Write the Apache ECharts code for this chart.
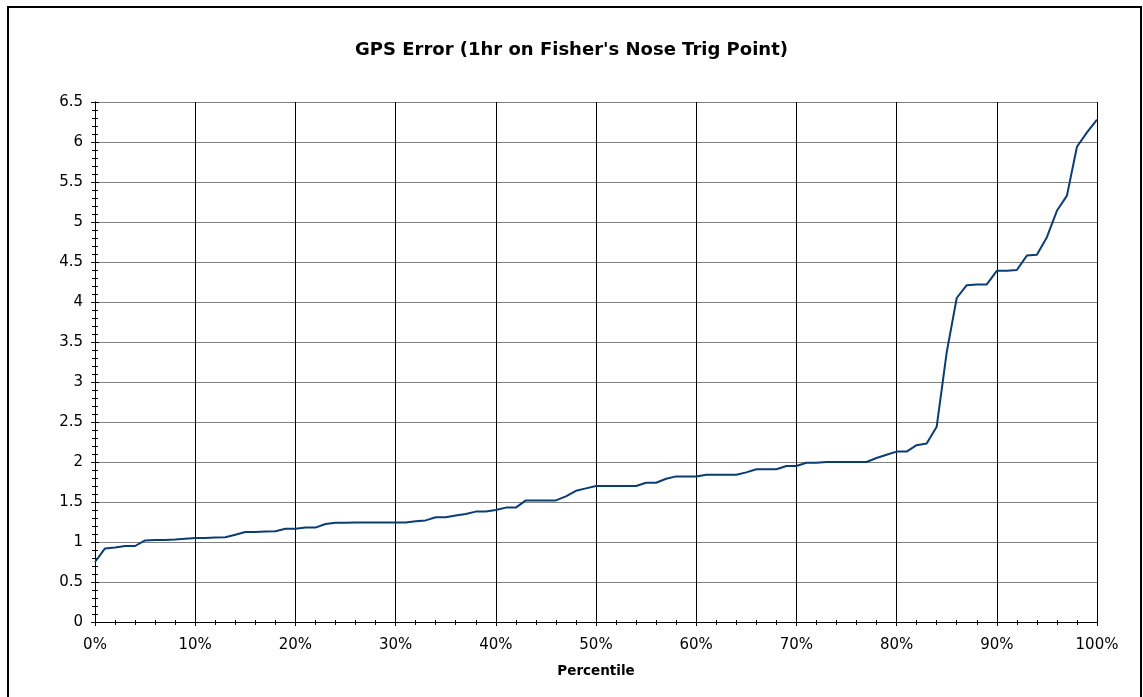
<!DOCTYPE html>
<html>
<head>
<meta charset="utf-8">
<title>GPS Error</title>
<script src="https://cdn.jsdelivr.net/npm/echarts@6/dist/echarts.min.js"></script>
<style>
  html, body { margin: 0; padding: 0; background: #fff; }
  #chart { width: 1143px; height: 697px; }
</style>
</head>
<body>
<div id="chart"></div>
<script>
// percentile (0..100) and GPS error values
const percentiles = Array.from({ length: 101 }, (_, i) => i)
const errors = [
  0.75, 0.92, 0.93, 0.95, 0.95, 1.02, 1.025, 1.025, 1.03, 1.04,
  1.05, 1.05, 1.055, 1.06, 1.09, 1.125, 1.125, 1.13, 1.135, 1.165,
  1.165, 1.18, 1.18, 1.225, 1.24, 1.24, 1.245, 1.245, 1.245, 1.245,
  1.245, 1.245, 1.26, 1.27, 1.31, 1.31, 1.33, 1.35, 1.38, 1.38,
  1.40, 1.43, 1.43, 1.52, 1.52, 1.52, 1.52, 1.57, 1.64, 1.67,
  1.70, 1.70, 1.70, 1.70, 1.70, 1.74, 1.74, 1.79, 1.82, 1.82,
  1.82, 1.84, 1.84, 1.84, 1.84, 1.87, 1.91, 1.91, 1.91, 1.95,
  1.95, 1.99, 1.99, 2.0, 2.0, 2.0, 2.0, 2.0, 2.05, 2.09,
  2.13, 2.13, 2.21, 2.23, 2.44, 3.37, 4.05, 4.21, 4.22, 4.22,
  4.39, 4.39, 4.40, 4.58, 4.59, 4.81, 5.14, 5.33, 5.94, 6.12,
  6.28
]

const chart = echarts.init(document.getElementById('chart'))
const font = 'DejaVu Sans'

const baseX = {
  type: 'value',
  min: 0,
  max: 100,
  interval: 10,
  axisLine: { lineStyle: { color: '#000', width: 1 } },
  minorTick: { show: true, splitNumber: 5, length: 3, lineStyle: { color: '#000' } },
  axisTick: { length: 4, lineStyle: { color: '#000' } }
}
const baseY = {
  type: 'value',
  min: 0,
  max: 6.5,
  interval: 0.5,
  axisLine: { show: true, lineStyle: { color: '#000', width: 1 } },
  minorTick: { show: true, splitNumber: 5, length: 3, lineStyle: { color: '#000' } },
  axisTick: { show: true, length: 4, lineStyle: { color: '#000' } }
}

chart.setOption({
  animation: false,
  textStyle: { fontFamily: font },
  title: {
    text: "GPS Error (1hr on Fisher's Nose Trig Point)",
    left: 'center',
    top: 36,
    textStyle: { fontFamily: font, fontSize: 18, fontWeight: 'bold', color: '#000' }
  },
  graphic: [{
    type: 'rect',
    shape: { x: 8, y: 7, width: 1133, height: 720 },
    style: { fill: 'none', stroke: '#000', lineWidth: 2 },
    silent: true
  }],
  grid: { left: 95, right: 46, top: 102, bottom: 75 },
  xAxis: [
    Object.assign({}, baseX, {
      name: 'Percentile',
      nameLocation: 'middle',
      nameGap: 42,
      nameTextStyle: { fontFamily: font, fontSize: 13.5, fontWeight: 'bold', color: '#000' },
      axisLabel: { formatter: '{value}%', fontSize: 15, color: '#000', margin: 16 },
      splitLine: { show: true, lineStyle: { color: '#000', width: 1 } }
    }),
    Object.assign({}, baseX, {
      position: 'bottom',
      axisLabel: { show: false },
      axisTick: { inside: true, length: 3, lineStyle: { color: '#000' } },
      minorTick: { show: true, splitNumber: 5, length: 2, lineStyle: { color: '#000' } },
      splitLine: { show: false }
    })
  ],
  yAxis: [
    Object.assign({}, baseY, {
      axisLabel: { fontSize: 15, color: '#000', margin: 12 },
      splitLine: { show: true, lineStyle: { color: '#808080', width: 1 } }
    }),
    Object.assign({}, baseY, {
      position: 'left',
      axisLabel: { show: false },
      axisTick: { show: true, inside: true, length: 4, lineStyle: { color: '#000' } },
      minorTick: { show: true, splitNumber: 5, length: 3, lineStyle: { color: '#000' } },
      splitLine: { show: false }
    })
  ],
  series: [{
    type: 'line',
    data: percentiles.map((p, i) => [p, errors[i]]),
    showSymbol: false,
    lineStyle: { color: '#0a3d73', width: 2 },
    z: 5
  }]
})
</script>
</body>
</html>
